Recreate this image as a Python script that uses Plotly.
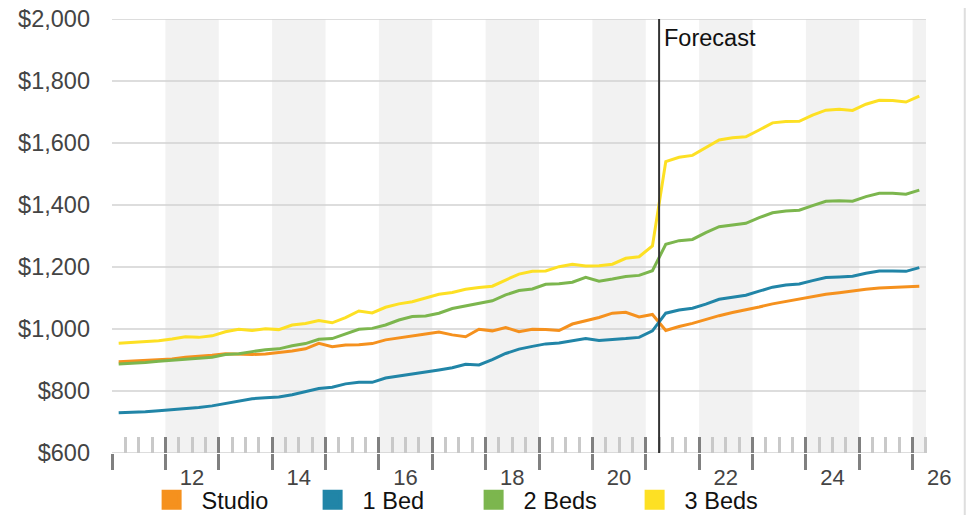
import plotly.graph_objects as go

# ---------------- data ----------------
quarters = [f"{y}-Q{q}" for y in range(2011, 2027) for q in range(1, 5)][:61]

studio = [894, 896, 898, 900, 903, 909, 911, 915, 920, 918, 918, 919, 923, 929, 936, 954,
          943, 948, 949, 953, 965, 972, 978, 984, 990, 981, 975, 999, 994, 1005, 991, 999,
          998, 995, 1016, 1026, 1037, 1051, 1054, 1039, 1047, 995, 1008, 1018, 1031, 1043,
          1053, 1061, 1071, 1081, 1089, 1097, 1104, 1112, 1117, 1123, 1128, 1132, 1134, 1137, 1138]
bed1 = [730, 731, 733, 736, 739, 743, 747, 752, 759, 768, 775, 778, 781, 788, 798, 808,
        812, 823, 828, 828, 842, 848, 856, 862, 868, 875, 886, 884, 901, 921, 935, 944,
        952, 955, 961, 969, 963, 965, 969, 973, 994, 1051, 1061, 1067, 1080, 1096,
        1103, 1109, 1122, 1135, 1142, 1145, 1156, 1166, 1168, 1170, 1180, 1187, 1187, 1186, 1198]
bed2 = [887, 889, 892, 896, 899, 903, 904, 909, 918, 920, 927, 933, 936, 946, 953, 967,
        969, 984, 999, 1002, 1013, 1029, 1040, 1042, 1051, 1066, 1074, 1083, 1091, 1110, 1124, 1129,
        1144, 1146, 1151, 1167, 1154, 1161, 1169, 1173, 1188, 1273, 1285, 1289, 1311, 1330,
        1336, 1341, 1359, 1375, 1381, 1383, 1398, 1412, 1414, 1412, 1427, 1438, 1438, 1435, 1448]
bed3 = [954, 957, 959, 962, 968, 975, 973, 978, 991, 999, 995, 1001, 998, 1013, 1018, 1027,
        1020, 1037, 1058, 1052, 1070, 1081, 1088, 1100, 1112, 1118, 1128, 1134, 1138, 1158, 1177, 1186,
        1187, 1201, 1209, 1203, 1204, 1209, 1228, 1233, 1268, 1540, 1554, 1560, 1586, 1610,
        1617, 1620, 1642, 1665, 1669, 1670, 1690, 1706, 1709, 1705, 1725, 1738, 1737, 1732, 1751]

series_names = ["Studio", "1 Bed", "2 Beds", "3 Beds"]
series_values = [studio, bed1, bed2, bed3]
series_colors = ["#F5911E", "#2185A7", "#7CB64E", "#FDE024"]

years = list(range(2011, 2027))
label_years = [2012, 2014, 2016, 2018, 2020, 2022, 2024, 2026]
label_text = ["12", "14", "16", "18", "20", "22", "24", "26"]
y_ticks = [600, 800, 1000, 1200, 1400, 1600, 1800, 2000]
y_labels = ["$600", "$800", "$1,000", "$1,200", "$1,400", "$1,600", "$1,800", "$2,000"]
forecast_start = 2021.25
x_start, x_end = 2011.0, 2026.25

# ---------------- derived ----------------
x = [int(s[:4]) + (int(s[-1]) - 0.5) / 4 for s in quarters]
minor_vals = [y + q / 4 for y in years for q in (1, 2, 3) if y + q / 4 <= x_end]
view_range = [x_start, 2026.85]

FONT = "Liberation Sans, Arial, Helvetica, sans-serif"

fig = go.Figure()
for name, vals, col in zip(series_names, series_values, series_colors):
    fig.add_trace(go.Scatter(x=x, y=vals, mode="lines", name=name,
                             line=dict(color=col, width=3), showlegend=False,
                             hoverinfo="skip"))
for name, col in zip(series_names, series_colors):
    fig.add_trace(go.Scatter(x=[None], y=[None], mode="markers", name=name,
                             marker=dict(symbol="square", size=16, color=col,
                                         line=dict(color=col, width=4)),
                             showlegend=True))
# helper traces so overlay tick axes are drawn
fig.add_trace(go.Scatter(x=[None], y=[None], xaxis="x2", yaxis="y", showlegend=False, hoverinfo="skip"))
fig.add_trace(go.Scatter(x=[None], y=[None], xaxis="x3", yaxis="y", showlegend=False, hoverinfo="skip"))

shapes = []
# alternating year bands
for yr in years:
    if yr % 2 == 0:
        shapes.append(dict(type="rect", xref="x", yref="y", x0=yr, x1=min(yr + 1, x_end),
                           y0=587, y1=2000, fillcolor="#f2f2f2", line=dict(width=0),
                           layer="below"))
# horizontal grid lines
for v in y_ticks:
    shapes.append(dict(type="line", xref="x", yref="y", x0=x_start, x1=x_end, y0=v, y1=v,
                       line=dict(color="#d2d2d2", width=1.5), layer="below"))
# forecast divider
shapes.append(dict(type="line", xref="x", yref="y", x0=forecast_start, x1=forecast_start,
                   y0=600, y1=2000, line=dict(color="#333333", width=2), layer="above"))
# right frame border
shapes.append(dict(type="line", xref="paper", yref="paper", x0=1.008, x1=1.008, y0=-0.2, y1=1.1,
                   line=dict(color="#dedede", width=2)))

tick_common = dict(range=view_range, showgrid=False, zeroline=False, showline=False,
                   fixedrange=True, automargin=False)

fig.update_layout(
    width=966, height=507,
    margin=dict(l=104, r=16, t=11, b=62, autoexpand=False),
    plot_bgcolor="white", paper_bgcolor="white",
    font=dict(family=FONT, size=22, color="#444444"),
    shapes=shapes,
    annotations=[dict(x=forecast_start, y=2000, xref="x", yref="y", text="Forecast",
                      showarrow=False, xanchor="left", yanchor="top", xshift=3, yshift=-4,
                      font=dict(family=FONT, size=23.5, color="#111111"))],
    xaxis=dict(**tick_common, tickmode="array",
               tickvals=[y + 0.5 for y in label_years], ticktext=label_text,
               ticks="", tickfont=dict(family=FONT, size=22, color="#444444"),
               ticklabelstandoff=9, ticklabeloverflow="allow",
               minor=dict(tickmode="array", tickvals=minor_vals, ticks="inside",
                          ticklen=16, tickwidth=3, tickcolor="#c9c9c9", showgrid=False)),
    xaxis2=dict(**tick_common, overlaying="x", anchor="y", side="bottom",
                tickmode="array", tickvals=years, ticks="outside", ticklen=16,
                tickwidth=3, tickcolor="#808080", showticklabels=False),
    xaxis3=dict(**tick_common, overlaying="x", anchor="y", side="bottom",
                tickmode="array", tickvals=years, ticks="inside", ticklen=16,
                tickwidth=3, tickcolor="#808080", showticklabels=False),
    yaxis=dict(range=[600, 2000], tickmode="array", tickvals=y_ticks, ticktext=y_labels,
               showgrid=False, zeroline=False, showline=False, ticks="",
               ticklabelstandoff=21, ticklabeloverflow="allow",
               fixedrange=True, automargin=False,
               tickfont=dict(family=FONT, size=23.5, color="#444444")),
    legend=dict(orientation="h", x=0.035, y=-0.108, xanchor="left", yanchor="middle",
                font=dict(family=FONT, size=23.5, color="#111111"),
                itemwidth=50, entrywidth=96, entrywidthmode="pixels", traceorder="normal",
                bgcolor="rgba(0,0,0,0)"),
)

fig.write_html("out.html")
